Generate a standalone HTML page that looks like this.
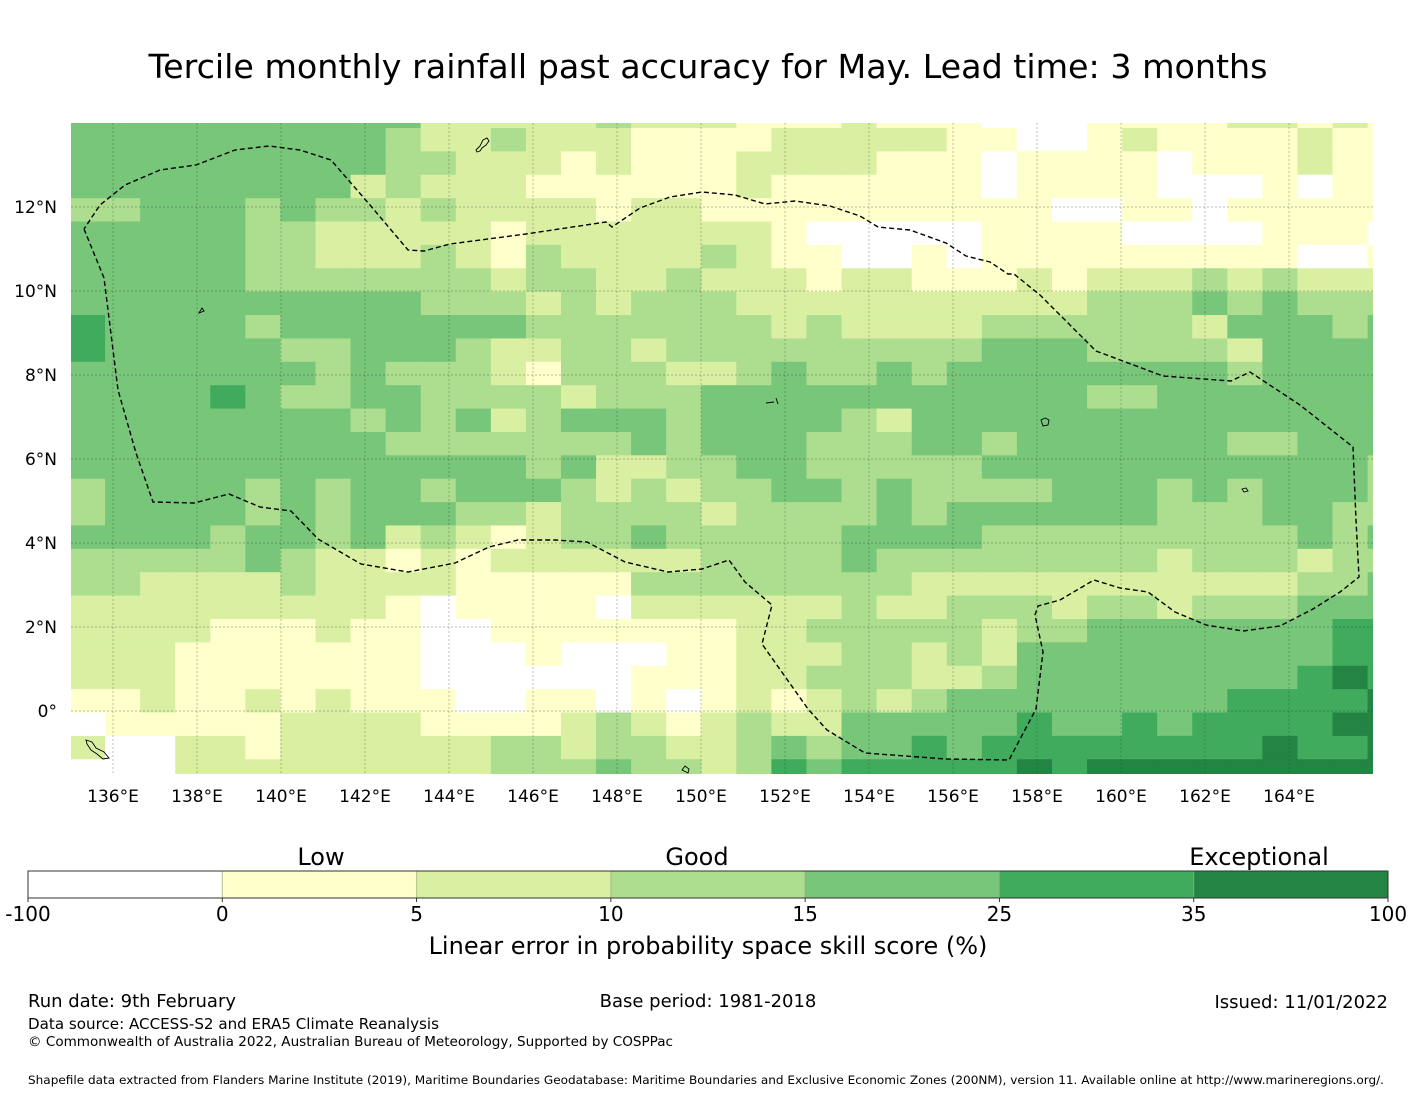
<!DOCTYPE html>
<html><head><meta charset="utf-8">
<style>
html,body{margin:0;padding:0;background:#fff;}
svg{display:block;font-family:"DejaVu Sans","Liberation Sans",sans-serif;}
</style></head>
<body>
<svg id="chart" width="1416" height="1095" viewBox="0 0 1416 1095" xmlns="http://www.w3.org/2000/svg">
<rect width="1416" height="1095" fill="#fff"/>
<text x="708" y="78" font-size="33.3" text-anchor="middle">Tercile monthly rainfall past accuracy for May. Lead time: 3 months</text>
<g id="map"></g>
<g id="cbar"></g>
<text x="708" y="954" font-size="24" text-anchor="middle">Linear error in probability space skill score (%)</text>
<text x="28" y="1007" font-size="18">Run date: 9th February</text>
<text x="708" y="1007" font-size="18" text-anchor="middle">Base period: 1981-2018</text>
<text x="1388" y="1008" font-size="18" text-anchor="end">Issued: 11/01/2022</text>
<text x="28" y="1029" font-size="15" textLength="411" lengthAdjust="spacingAndGlyphs">Data source: ACCESS-S2 and ERA5 Climate Reanalysis</text>
<text x="28" y="1046" font-size="13" textLength="645" lengthAdjust="spacingAndGlyphs">© Commonwealth of Australia 2022, Australian Bureau of Meteorology, Supported by COSPPac</text>
<text x="28" y="1084" font-size="11.5" textLength="1356" lengthAdjust="spacingAndGlyphs">Shapefile data extracted from Flanders Marine Institute (2019), Maritime Boundaries Geodatabase: Maritime Boundaries and Exclusive Economic Zones (200NM), version 11. Available online at http://www.marineregions.org/.</text>
</svg>
<script>
// ---- data ----
const levelColors = ["#ffffff","#ffffcc","#d9f0a3","#addd8e","#78c679","#41ab5d","#238443"];
const cbarTicks = ["-100","0","5","10","15","25","35","100"];
const cbarCategories = ["Low","Good","Exceptional"];
const lonTicks = [136,138,140,142,144,146,148,150,152,154,156,158,160,162,164];
const latTicks = [0,2,4,6,8,10,12];
const gridRows = [
"4444444444222223222111211"+"1000111122121",
"4444444443223222111122222"+"1100121111211",
"4444444443322212111222211"+"1011110111211",
"4444444423222111111211111"+"1011110001011",
"3344434332322221221111111"+"1110011011111",
"4444433222221222222210000"+"0111100001110",
"4444433222321322223211001"+"0111111111001",
"4444433333332332232221221"+"1121222323222",
"4444444444333232333222222"+"2222333434333",
"5444434444444333333323222"+"2333333244434",
"5444443344432233233333333"+"3444333324444",
"4444444343332133322343343"+"4444444434444",
"4444543344333323334444444"+"4444334444444",
"4444444434342344434444324"+"4444444444444",
"4444444443333333434443334"+"4344444433444",
"4444444444444342233443333"+"3444444444443",
"3444434344344432323344343"+"3334443434443",
"3444434344433233332333343"+"4444443334433",
"4444344342321233433333444"+"4333333333434",
"3333343221212222223333433"+"3333332333233",
"3322223222211111333333332"+"2222222222334",
"2222222221011110222222322"+"3332332333444",
"2222111211001111111223333"+"3233444444455",
"2221111111000100011222332"+"3244444444455",
"2221111111000000111223332"+"2344444444565",
"1121121211100110101212323"+"4444444455556",
"0111112222111123212322444"+"4454454555566",
"2002212222223323322343445"+"4555555556556",
"0002222222223334332354555"+"5565666666666"
];
// ---- geometry ----
const NS="http://www.w3.org/2000/svg";
const mapL=71,mapR=1373,mapT=123,mapB=774;
const cellW=35.07,cellH=23.38,col0=70,row1=128;
function lonX(lon){return 113+(lon-136)*42;}
function latY(lat){return 711-lat*42;}
function colX(c){return col0+c*cellW;}
function rowY(r){return row1+(r-1)*cellH;}
function el(tag,attrs,parent){const e=document.createElementNS(NS,tag);for(const k in attrs)e.setAttribute(k,attrs[k]);parent.appendChild(e);return e;}
const map=document.getElementById('map');
const defs=el('defs',{},map);
const cp=el('clipPath',{id:'mapclip'},defs);
el('rect',{x:mapL,y:mapT,width:mapR-mapL,height:mapB-mapT},cp);
const cells=el('g',{'clip-path':'url(#mapclip)'},map);


gridRows.forEach((row,r)=>{
  for(let c=0;c<row.length;c++){
    const v=+row[c];
    const rc=el('rect',{x:colX(c).toFixed(2),y:rowY(r).toFixed(2),width:(cellW+0.6).toFixed(2),height:(cellH+0.6).toFixed(2),fill:levelColors[v]},cells);
    
    
  }
});
// gridlines
const grid=el('g',{'clip-path':'url(#mapclip)',stroke:'#333','stroke-width':'0.7','stroke-dasharray':'2,2','stroke-opacity':'0.45'},map);


lonTicks.forEach(l=>{el('line',{x1:lonX(l),x2:lonX(l),y1:mapT,y2:mapB},grid);});
latTicks.forEach(l=>{el('line',{x1:mapL,x2:mapR,y1:latY(l),y2:latY(l)},grid);});
// EEZ boundary
const eez=[[84,229],[104,278],[118,390],[136,453],[153,502],[194,503],[229,494],[260,507],[291,511],[318,539],[361,564],[408,572],[455,563],[489,547],[518,540],[555,540],[587,542],[625,562],[668,572],[702,569],[729,560],[745,582],[772,605],[762,644],[808,709],[827,730],[865,753],[946,759],[1009,760],[1036,709],[1043,652],[1035,615],[1038,606],[1060,600],[1094,580],[1120,588],[1148,592],[1175,612],[1206,625],[1243,631],[1280,626],[1313,609],[1340,592],[1359,577],[1356,520],[1353,447],[1300,405],[1250,372],[1231,381],[1163,376],[1096,351],[1070,325],[1040,295],[1014,274],[1008,274],[990,262],[966,256],[946,243],[910,230],[878,227],[860,216],[830,206],[795,201],[765,204],[735,195],[702,192],[670,197],[640,208],[612,227],[606,222],[526,234],[450,244],[424,251],[408,250],[370,205],[331,160],[300,150],[269,146],[235,150],[196,165],[160,170],[125,185],[100,205],[84,229]];
const eezP=el('polyline',{points:eez.map(p=>p.join(',')).join(' '),fill:'none',stroke:'#000','stroke-width':'1.4','stroke-dasharray':'5,3'},map);


// islands
const isl=el('g',{fill:'none',stroke:'#000','stroke-width':'0.9'},map);


el('path',{d:'M476,150 l4,-4 l3,-6 l4,-2 l2,3 l-3,4 l-4,3 l-2,3 l-3,1 z'},isl);
el('path',{d:'M86,740 l6,2 l4,6 l8,4 l5,6 l-6,1 l-6,-5 l-6,-4 l-4,-6 z'},isl);
el('path',{d:'M1041,420 l4,-2 l4,2 l-1,5 l-5,1 z'},isl);
el('path',{d:'M1242,489 l4,-1 l2,3 l-4,1 z'},isl);
el('path',{d:'M199,313 l3,-5 l2,3 z'},isl);
el('path',{d:'M682,770 l3,-4 l4,3 l-1,4 z'},isl);
el('path',{d:'M766,403 l8,-1 M776,398 l2,6'},isl);
// axis labels
const axes=el('g',{'font-size':'17',fill:'#000'},map);


lonTicks.forEach(l=>{const t=el('text',{x:lonX(l),y:802,'text-anchor':'middle'},axes);t.textContent=l+'°E';

});
latTicks.forEach(l=>{const t=el('text',{x:57,y:latY(l)+6,'text-anchor':'end'},axes);t.textContent=l===0?'0°':l+'°N';

});
// colorbar
const cb=document.getElementById('cbar');
const cbL=28,cbR=1388,cbT=871,cbB=898,segW=(cbR-cbL)/(levelColors.length);
levelColors.forEach((c,i)=>{const r=el('rect',{x:cbL+i*segW,y:cbT,width:segW,height:cbB-cbT,fill:c},cb);

});
for(let i=1;i<levelColors.length;i++){el('line',{x1:cbL+i*segW,x2:cbL+i*segW,y1:cbT,y2:cbB,stroke:'#9aa66a','stroke-width':'1.2','stroke-opacity':'0.6'},cb);}
el('rect',{x:cbL,y:cbT,width:cbR-cbL,height:cbB-cbT,fill:'none',stroke:'#333','stroke-width':'1'},cb);
cbarTicks.forEach((t,i)=>{const x=cbL+i*segW;el('line',{x1:x,x2:x,y1:cbB,y2:cbB+4,stroke:'#333'},cb);
const tx=el('text',{x:x,y:921,'font-size':'20','text-anchor':'middle'},cb);tx.textContent=t;

});
const catX=[321,697,1259];
cbarCategories.forEach((c,i)=>{const t=el('text',{x:catX[i],y:865,'font-size':'24','text-anchor':'middle'},cb);t.textContent=c;

});
</script>
</body></html>
